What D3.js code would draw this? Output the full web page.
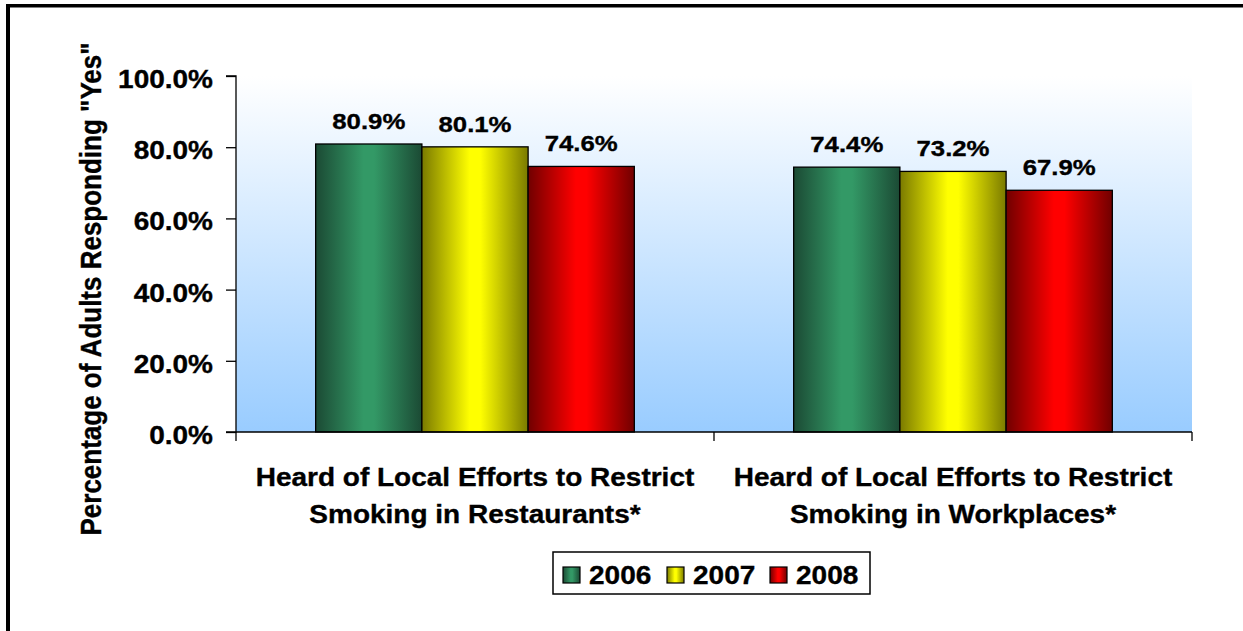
<!DOCTYPE html>
<html>
<head>
<meta charset="utf-8">
<script src="https://cdn.jsdelivr.net/npm/d3@7"></script>
<style>
  html, body { margin: 0; padding: 0; background: #fff; }
  svg { display: block; }
  text { font-family: "Liberation Sans", Arial, sans-serif; font-weight: bold; fill: #000; stroke: #000; stroke-width: 0.35px; }
</style>
</head>
<body>
<svg id="chart" width="1243" height="631"></svg>
<script>
const categories = [
  ["Heard of Local Efforts to Restrict", "Smoking in Restaurants*"],
  ["Heard of Local Efforts to Restrict", "Smoking in Workplaces*"]
];
const seriesNames = ["2006", "2007", "2008"];
const values2006 = [80.9, 74.4];
const values2007 = [80.1, 73.2];
const values2008 = [74.6, 67.9];
const yTicks = [0, 20, 40, 60, 80, 100];
const yTitle = 'Percentage of Adults Responding "Yes"';

const series = [
  { name: seriesNames[0], values: values2006, dark: "#1b4a34", bright: "#339966" },
  { name: seriesNames[1], values: values2007, dark: "#7a7a00", bright: "#ffff00" },
  { name: seriesNames[2], values: values2008, dark: "#700000", bright: "#ff0000" }
];

const SX = 1.12; // horizontal text stretch
const svg = d3.select("#chart");
const defs = svg.append("defs");

// plot area gradient
const bg = defs.append("linearGradient").attr("id", "bgGrad")
  .attr("x1", 0).attr("y1", 0).attr("x2", 0).attr("y2", 1);
bg.append("stop").attr("offset", "0%").attr("stop-color", "#ffffff");
bg.append("stop").attr("offset", "100%").attr("stop-color", "#99ccff");

series.forEach((s, i) => {
  const g = defs.append("linearGradient").attr("id", "barGrad" + i)
    .attr("x1", 0).attr("y1", 0).attr("x2", 1).attr("y2", 0);
  g.append("stop").attr("offset", "0%").attr("stop-color", s.dark);
  g.append("stop").attr("offset", "45%").attr("stop-color", s.bright);
  g.append("stop").attr("offset", "55%").attr("stop-color", s.bright);
  g.append("stop").attr("offset", "100%").attr("stop-color", s.dark);
});

// frame (top and left)
svg.append("rect").attr("x", 6).attr("y", 4).attr("width", 1243).attr("height", 3.5).attr("fill", "#000");
svg.append("rect").attr("x", 6).attr("y", 4).attr("width", 4).attr("height", 631).attr("fill", "#000");

const plot = { left: 236, right: 1192, top: 76, bottom: 432 };

const x0 = d3.scaleBand().domain(d3.range(categories.length))
  .range([plot.left, plot.right]).paddingInner(0).paddingOuter(0);
const bw = x0.bandwidth() / (series.length + 1.5);
const y = d3.scaleLinear().domain([0, 100]).range([plot.bottom, plot.top]);

// plot background
svg.append("rect")
  .attr("x", plot.left).attr("y", plot.top)
  .attr("width", plot.right - plot.left).attr("height", plot.bottom - plot.top)
  .attr("fill", "url(#bgGrad)");

function stretchedText(parent, x, yy, txt, size, anchor, rotate) {
  return parent.append("text")
    .attr("transform", `translate(${x},${yy}) scale(${SX},1)` + (rotate ? ` rotate(${rotate})` : ""))
    .attr("text-anchor", anchor)
    .style("font-size", size + "px")
    .text(txt);
}

// bars
series.forEach((s, si) => {
  s.values.forEach((v, ci) => {
    const bx = x0(ci) + bw * 0.75 + si * bw;
    svg.append("rect")
      .attr("x", bx).attr("y", y(v))
      .attr("width", bw).attr("height", y(0) - y(v))
      .attr("fill", `url(#barGrad${si})`)
      .attr("stroke", "#000").attr("stroke-width", 1.3);
    stretchedText(svg, bx + bw / 2, y(v) - 15, v.toFixed(1) + "%", 23, "middle");
  });
});

// y axis
const yAxis = d3.axisLeft(y).tickValues(yTicks).tickSize(10).tickFormat(() => "");
const ya = svg.append("g").attr("transform", `translate(${plot.left},0)`).call(yAxis);
ya.selectAll("path, line").attr("stroke", "#000").attr("stroke-width", 1.3);
ya.select(".domain").attr("d", `M-10,${plot.top}H0V${plot.bottom}H-10`);
yTicks.forEach(t => {
  stretchedText(svg, 213, y(t) + 12, t.toFixed(1) + "%", 25, "end");
});

// x axis
const xEdges = d3.range(categories.length + 1).map(i => plot.left + i * x0.bandwidth());
const xa = svg.append("g");
xa.append("line").attr("x1", plot.left).attr("x2", plot.right)
  .attr("y1", plot.bottom).attr("y2", plot.bottom)
  .attr("stroke", "#000").attr("stroke-width", 1.3);
xa.selectAll("line.tick").data(xEdges).join("line").attr("class", "tick")
  .attr("x1", d => d).attr("x2", d => d)
  .attr("y1", plot.bottom).attr("y2", plot.bottom + 9)
  .attr("stroke", "#000").attr("stroke-width", 1.3);

categories.forEach((lines, ci) => {
  const cx = x0(ci) + x0.bandwidth() / 2;
  lines.forEach((ln, li) => {
    stretchedText(svg, cx, 486 + li * 36.7, ln, 25, "middle");
  });
});

// y title
stretchedText(svg, 101, 289, yTitle, 26, "middle", -90);

// legend
const lg = svg.append("g");
lg.append("rect").attr("x", 553).attr("y", 552).attr("width", 317).attr("height", 42)
  .attr("fill", "#fff").attr("stroke", "#000").attr("stroke-width", 1.5);
const legX = [563, 667, 770];
series.forEach((s, i) => {
  lg.append("rect").attr("x", legX[i]).attr("y", 567).attr("width", 17).attr("height", 16)
    .attr("fill", `url(#barGrad${i})`).attr("stroke", "#000").attr("stroke-width", 1.2);
  stretchedText(lg, legX[i] + 26, 584, s.name, 25, "start");
});
</script>
</body>
</html>
